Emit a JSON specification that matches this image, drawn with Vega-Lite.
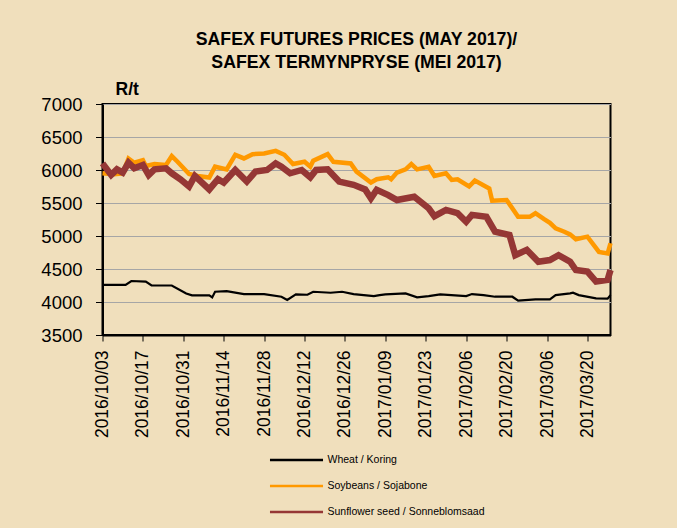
{
  "$schema": "https://vega.github.io/schema/vega-lite/v6.json",
  "width": 508,
  "height": 231,
  "autosize": {"type": "none"},
  "padding": {"left": 102.5, "top": 104, "right": 66.5, "bottom": 193},
  "background": "#f0dfbc",
  "config": {
    "font": "Liberation Sans",
    "view": {"stroke": "#000000", "strokeWidth": 2}
  },
  "title": {
    "text": ["SAFEX FUTURES PRICES (MAY 2017)/", "SAFEX TERMYNPRYSE (MEI 2017)"],
    "font": "Liberation Sans",
    "fontSize": 17.7,
    "fontWeight": "bold",
    "color": "#000000",
    "anchor": "middle",
    "lineHeight": 23,
    "offset": 8
  },
  "data": {
    "values": [
      {"d": "2016-10-03", "s": "Wheat / Koring", "v": 4258},
      {"d": "2016-10-11", "s": "Wheat / Koring", "v": 4258},
      {"d": "2016-10-13", "s": "Wheat / Koring", "v": 4318},
      {"d": "2016-10-18", "s": "Wheat / Koring", "v": 4310},
      {"d": "2016-10-20", "s": "Wheat / Koring", "v": 4250},
      {"d": "2016-10-27", "s": "Wheat / Koring", "v": 4250},
      {"d": "2016-11-01", "s": "Wheat / Koring", "v": 4130},
      {"d": "2016-11-03", "s": "Wheat / Koring", "v": 4100},
      {"d": "2016-11-09", "s": "Wheat / Koring", "v": 4100},
      {"d": "2016-11-10", "s": "Wheat / Koring", "v": 4070},
      {"d": "2016-11-11", "s": "Wheat / Koring", "v": 4155},
      {"d": "2016-11-15", "s": "Wheat / Koring", "v": 4165},
      {"d": "2016-11-21", "s": "Wheat / Koring", "v": 4120},
      {"d": "2016-11-28", "s": "Wheat / Koring", "v": 4120},
      {"d": "2016-12-04", "s": "Wheat / Koring", "v": 4080},
      {"d": "2016-12-06", "s": "Wheat / Koring", "v": 4030},
      {"d": "2016-12-09", "s": "Wheat / Koring", "v": 4115},
      {"d": "2016-12-13", "s": "Wheat / Koring", "v": 4110},
      {"d": "2016-12-15", "s": "Wheat / Koring", "v": 4155},
      {"d": "2016-12-21", "s": "Wheat / Koring", "v": 4140},
      {"d": "2016-12-25", "s": "Wheat / Koring", "v": 4155},
      {"d": "2016-12-29", "s": "Wheat / Koring", "v": 4120},
      {"d": "2017-01-05", "s": "Wheat / Koring", "v": 4090},
      {"d": "2017-01-07", "s": "Wheat / Koring", "v": 4105},
      {"d": "2017-01-09", "s": "Wheat / Koring", "v": 4115},
      {"d": "2017-01-16", "s": "Wheat / Koring", "v": 4130},
      {"d": "2017-01-20", "s": "Wheat / Koring", "v": 4070},
      {"d": "2017-01-24", "s": "Wheat / Koring", "v": 4090},
      {"d": "2017-01-28", "s": "Wheat / Koring", "v": 4115},
      {"d": "2017-02-06", "s": "Wheat / Koring", "v": 4090},
      {"d": "2017-02-08", "s": "Wheat / Koring", "v": 4120},
      {"d": "2017-02-12", "s": "Wheat / Koring", "v": 4105},
      {"d": "2017-02-16", "s": "Wheat / Koring", "v": 4080},
      {"d": "2017-02-22", "s": "Wheat / Koring", "v": 4080},
      {"d": "2017-02-24", "s": "Wheat / Koring", "v": 4020},
      {"d": "2017-03-02", "s": "Wheat / Koring", "v": 4040},
      {"d": "2017-03-07", "s": "Wheat / Koring", "v": 4040},
      {"d": "2017-03-09", "s": "Wheat / Koring", "v": 4105},
      {"d": "2017-03-14", "s": "Wheat / Koring", "v": 4130},
      {"d": "2017-03-15", "s": "Wheat / Koring", "v": 4140},
      {"d": "2017-03-17", "s": "Wheat / Koring", "v": 4105},
      {"d": "2017-03-23", "s": "Wheat / Koring", "v": 4055},
      {"d": "2017-03-27", "s": "Wheat / Koring", "v": 4050},
      {"d": "2017-03-28", "s": "Wheat / Koring", "v": 4105},

      {"d": "2016-10-03", "s": "Soybeans / Sojabone", "v": 5950},
      {"d": "2016-10-07", "s": "Soybeans / Sojabone", "v": 5935},
      {"d": "2016-10-10", "s": "Soybeans / Sojabone", "v": 5950},
      {"d": "2016-10-12", "s": "Soybeans / Sojabone", "v": 6175},
      {"d": "2016-10-14", "s": "Soybeans / Sojabone", "v": 6110},
      {"d": "2016-10-17", "s": "Soybeans / Sojabone", "v": 6150},
      {"d": "2016-10-18", "s": "Soybeans / Sojabone", "v": 6060},
      {"d": "2016-10-21", "s": "Soybeans / Sojabone", "v": 6090},
      {"d": "2016-10-25", "s": "Soybeans / Sojabone", "v": 6075},
      {"d": "2016-10-27", "s": "Soybeans / Sojabone", "v": 6210},
      {"d": "2016-10-29", "s": "Soybeans / Sojabone", "v": 6125},
      {"d": "2016-11-02", "s": "Soybeans / Sojabone", "v": 5940},
      {"d": "2016-11-05", "s": "Soybeans / Sojabone", "v": 5910},
      {"d": "2016-11-09", "s": "Soybeans / Sojabone", "v": 5885},
      {"d": "2016-11-11", "s": "Soybeans / Sojabone", "v": 6050},
      {"d": "2016-11-15", "s": "Soybeans / Sojabone", "v": 6010},
      {"d": "2016-11-18", "s": "Soybeans / Sojabone", "v": 6230},
      {"d": "2016-11-21", "s": "Soybeans / Sojabone", "v": 6175},
      {"d": "2016-11-24", "s": "Soybeans / Sojabone", "v": 6240},
      {"d": "2016-11-28", "s": "Soybeans / Sojabone", "v": 6250},
      {"d": "2016-12-02", "s": "Soybeans / Sojabone", "v": 6290},
      {"d": "2016-12-05", "s": "Soybeans / Sojabone", "v": 6230},
      {"d": "2016-12-08", "s": "Soybeans / Sojabone", "v": 6090},
      {"d": "2016-12-12", "s": "Soybeans / Sojabone", "v": 6125},
      {"d": "2016-12-14", "s": "Soybeans / Sojabone", "v": 6050},
      {"d": "2016-12-15", "s": "Soybeans / Sojabone", "v": 6140},
      {"d": "2016-12-20", "s": "Soybeans / Sojabone", "v": 6240},
      {"d": "2016-12-22", "s": "Soybeans / Sojabone", "v": 6125},
      {"d": "2016-12-28", "s": "Soybeans / Sojabone", "v": 6100},
      {"d": "2016-12-30", "s": "Soybeans / Sojabone", "v": 5975},
      {"d": "2017-01-04", "s": "Soybeans / Sojabone", "v": 5810},
      {"d": "2017-01-06", "s": "Soybeans / Sojabone", "v": 5860},
      {"d": "2017-01-10", "s": "Soybeans / Sojabone", "v": 5890},
      {"d": "2017-01-11", "s": "Soybeans / Sojabone", "v": 5860},
      {"d": "2017-01-13", "s": "Soybeans / Sojabone", "v": 5960},
      {"d": "2017-01-16", "s": "Soybeans / Sojabone", "v": 6010},
      {"d": "2017-01-18", "s": "Soybeans / Sojabone", "v": 6090},
      {"d": "2017-01-20", "s": "Soybeans / Sojabone", "v": 6010},
      {"d": "2017-01-24", "s": "Soybeans / Sojabone", "v": 6050},
      {"d": "2017-01-26", "s": "Soybeans / Sojabone", "v": 5910},
      {"d": "2017-01-30", "s": "Soybeans / Sojabone", "v": 5950},
      {"d": "2017-02-01", "s": "Soybeans / Sojabone", "v": 5850},
      {"d": "2017-02-03", "s": "Soybeans / Sojabone", "v": 5860},
      {"d": "2017-02-07", "s": "Soybeans / Sojabone", "v": 5750},
      {"d": "2017-02-09", "s": "Soybeans / Sojabone", "v": 5840},
      {"d": "2017-02-14", "s": "Soybeans / Sojabone", "v": 5720},
      {"d": "2017-02-15", "s": "Soybeans / Sojabone", "v": 5535},
      {"d": "2017-02-20", "s": "Soybeans / Sojabone", "v": 5545},
      {"d": "2017-02-24", "s": "Soybeans / Sojabone", "v": 5290},
      {"d": "2017-02-28", "s": "Soybeans / Sojabone", "v": 5290},
      {"d": "2017-03-02", "s": "Soybeans / Sojabone", "v": 5345},
      {"d": "2017-03-05", "s": "Soybeans / Sojabone", "v": 5255},
      {"d": "2017-03-07", "s": "Soybeans / Sojabone", "v": 5200},
      {"d": "2017-03-09", "s": "Soybeans / Sojabone", "v": 5115},
      {"d": "2017-03-12", "s": "Soybeans / Sojabone", "v": 5065},
      {"d": "2017-03-14", "s": "Soybeans / Sojabone", "v": 5025},
      {"d": "2017-03-16", "s": "Soybeans / Sojabone", "v": 4950},
      {"d": "2017-03-20", "s": "Soybeans / Sojabone", "v": 4990},
      {"d": "2017-03-24", "s": "Soybeans / Sojabone", "v": 4760},
      {"d": "2017-03-27", "s": "Soybeans / Sojabone", "v": 4735},
      {"d": "2017-03-28", "s": "Soybeans / Sojabone", "v": 4890},

      {"d": "2016-10-03", "s": "Sunflower seed / Sonneblomsaad", "v": 6100},
      {"d": "2016-10-06", "s": "Sunflower seed / Sonneblomsaad", "v": 5925},
      {"d": "2016-10-08", "s": "Sunflower seed / Sonneblomsaad", "v": 6010},
      {"d": "2016-10-10", "s": "Sunflower seed / Sonneblomsaad", "v": 5960},
      {"d": "2016-10-12", "s": "Sunflower seed / Sonneblomsaad", "v": 6110},
      {"d": "2016-10-14", "s": "Sunflower seed / Sonneblomsaad", "v": 6025},
      {"d": "2016-10-17", "s": "Sunflower seed / Sonneblomsaad", "v": 6075},
      {"d": "2016-10-19", "s": "Sunflower seed / Sonneblomsaad", "v": 5925},
      {"d": "2016-10-21", "s": "Sunflower seed / Sonneblomsaad", "v": 6010},
      {"d": "2016-10-25", "s": "Sunflower seed / Sonneblomsaad", "v": 6025},
      {"d": "2016-10-27", "s": "Sunflower seed / Sonneblomsaad", "v": 5950},
      {"d": "2016-10-30", "s": "Sunflower seed / Sonneblomsaad", "v": 5860},
      {"d": "2016-11-02", "s": "Sunflower seed / Sonneblomsaad", "v": 5750},
      {"d": "2016-11-04", "s": "Sunflower seed / Sonneblomsaad", "v": 5910},
      {"d": "2016-11-09", "s": "Sunflower seed / Sonneblomsaad", "v": 5705},
      {"d": "2016-11-12", "s": "Sunflower seed / Sonneblomsaad", "v": 5860},
      {"d": "2016-11-14", "s": "Sunflower seed / Sonneblomsaad", "v": 5810},
      {"d": "2016-11-18", "s": "Sunflower seed / Sonneblomsaad", "v": 6000},
      {"d": "2016-11-22", "s": "Sunflower seed / Sonneblomsaad", "v": 5825},
      {"d": "2016-11-25", "s": "Sunflower seed / Sonneblomsaad", "v": 5975},
      {"d": "2016-11-29", "s": "Sunflower seed / Sonneblomsaad", "v": 6000},
      {"d": "2016-12-02", "s": "Sunflower seed / Sonneblomsaad", "v": 6100},
      {"d": "2016-12-04", "s": "Sunflower seed / Sonneblomsaad", "v": 6050},
      {"d": "2016-12-07", "s": "Sunflower seed / Sonneblomsaad", "v": 5950},
      {"d": "2016-12-11", "s": "Sunflower seed / Sonneblomsaad", "v": 6000},
      {"d": "2016-12-14", "s": "Sunflower seed / Sonneblomsaad", "v": 5890},
      {"d": "2016-12-16", "s": "Sunflower seed / Sonneblomsaad", "v": 6000},
      {"d": "2016-12-20", "s": "Sunflower seed / Sonneblomsaad", "v": 6010},
      {"d": "2016-12-24", "s": "Sunflower seed / Sonneblomsaad", "v": 5825},
      {"d": "2016-12-29", "s": "Sunflower seed / Sonneblomsaad", "v": 5775},
      {"d": "2017-01-02", "s": "Sunflower seed / Sonneblomsaad", "v": 5705},
      {"d": "2017-01-04", "s": "Sunflower seed / Sonneblomsaad", "v": 5570},
      {"d": "2017-01-06", "s": "Sunflower seed / Sonneblomsaad", "v": 5700},
      {"d": "2017-01-10", "s": "Sunflower seed / Sonneblomsaad", "v": 5620},
      {"d": "2017-01-13", "s": "Sunflower seed / Sonneblomsaad", "v": 5545},
      {"d": "2017-01-19", "s": "Sunflower seed / Sonneblomsaad", "v": 5595},
      {"d": "2017-01-24", "s": "Sunflower seed / Sonneblomsaad", "v": 5420},
      {"d": "2017-01-26", "s": "Sunflower seed / Sonneblomsaad", "v": 5300},
      {"d": "2017-01-30", "s": "Sunflower seed / Sonneblomsaad", "v": 5395},
      {"d": "2017-02-03", "s": "Sunflower seed / Sonneblomsaad", "v": 5345},
      {"d": "2017-02-06", "s": "Sunflower seed / Sonneblomsaad", "v": 5215},
      {"d": "2017-02-08", "s": "Sunflower seed / Sonneblomsaad", "v": 5320},
      {"d": "2017-02-13", "s": "Sunflower seed / Sonneblomsaad", "v": 5290},
      {"d": "2017-02-16", "s": "Sunflower seed / Sonneblomsaad", "v": 5065},
      {"d": "2017-02-21", "s": "Sunflower seed / Sonneblomsaad", "v": 5015},
      {"d": "2017-02-23", "s": "Sunflower seed / Sonneblomsaad", "v": 4710},
      {"d": "2017-02-27", "s": "Sunflower seed / Sonneblomsaad", "v": 4790},
      {"d": "2017-03-03", "s": "Sunflower seed / Sonneblomsaad", "v": 4610},
      {"d": "2017-03-07", "s": "Sunflower seed / Sonneblomsaad", "v": 4635},
      {"d": "2017-03-10", "s": "Sunflower seed / Sonneblomsaad", "v": 4710},
      {"d": "2017-03-14", "s": "Sunflower seed / Sonneblomsaad", "v": 4610},
      {"d": "2017-03-16", "s": "Sunflower seed / Sonneblomsaad", "v": 4485},
      {"d": "2017-03-20", "s": "Sunflower seed / Sonneblomsaad", "v": 4460},
      {"d": "2017-03-23", "s": "Sunflower seed / Sonneblomsaad", "v": 4310},
      {"d": "2017-03-27", "s": "Sunflower seed / Sonneblomsaad", "v": 4335},
      {"d": "2017-03-28", "s": "Sunflower seed / Sonneblomsaad", "v": 4485}
    ]
  },
  "encoding": {
    "x": {
      "field": "d",
      "type": "temporal",
      "scale": {
        "type": "utc",
        "domain": [
          {"year": 2016, "month": 10, "date": 3, "utc": true},
          {"year": 2017, "month": 3, "date": 28, "utc": true}
        ]
      },
      "axis": {
        "values": [
          {"year": 2016, "month": 10, "date": 3, "utc": true},
          {"year": 2016, "month": 10, "date": 17, "utc": true},
          {"year": 2016, "month": 10, "date": 31, "utc": true},
          {"year": 2016, "month": 11, "date": 14, "utc": true},
          {"year": 2016, "month": 11, "date": 28, "utc": true},
          {"year": 2016, "month": 12, "date": 12, "utc": true},
          {"year": 2016, "month": 12, "date": 26, "utc": true},
          {"year": 2017, "month": 1, "date": 9, "utc": true},
          {"year": 2017, "month": 1, "date": 23, "utc": true},
          {"year": 2017, "month": 2, "date": 6, "utc": true},
          {"year": 2017, "month": 2, "date": 20, "utc": true},
          {"year": 2017, "month": 3, "date": 6, "utc": true},
          {"year": 2017, "month": 3, "date": 20, "utc": true}
        ],
        "format": "%Y/%m/%d",
        "title": null,
        "grid": false,
        "labelAngle": 270,
        "labelFontSize": 17.5,
        "labelColor": "#000000",
        "labelPadding": 9,
        "labelOverlap": false,
        "labelBound": false,
        "labelFlush": false,
        "tickSize": 6,
        "tickColor": "#000000",
        "domainColor": "#000000",
        "domainWidth": 2
      }
    },
    "y": {
      "field": "v",
      "type": "quantitative",
      "scale": {"domain": [3500, 7000], "nice": false, "zero": false},
      "axis": {
        "values": [3500, 4000, 4500, 5000, 5500, 6000, 6500, 7000],
        "format": "d",
        "title": "R/t",
        "titleAngle": 0,
        "titleAlign": "left",
        "titleBaseline": "alphabetic",
        "titleX": 12.5,
        "titleY": -10,
        "titleFontSize": 17.5,
        "titleFontWeight": "bold",
        "titleColor": "#000000",
        "labelFontSize": 18.5,
        "labelColor": "#000000",
        "labelPadding": 13.5,
        "tickSize": 7,
        "tickColor": "#000000",
        "domainColor": "#000000",
        "domainWidth": 2,
        "gridColor": "#a6a6a6",
        "gridWidth": 1
      }
    },
    "color": {
      "field": "s",
      "type": "nominal",
      "scale": {
        "domain": ["Wheat / Koring", "Soybeans / Sojabone", "Sunflower seed / Sonneblomsaad"],
        "range": ["#000000", "#ff9900", "#953735"]
      },
      "legend": {
        "orient": "none",
        "legendX": 182,
        "legendY": 344,
        "title": null,
        "padding": 0,
        "symbolType": "M-2.5,0L2.5,0",
        "symbolSize": 450,
        "symbolStrokeWidth": 2.5,
        "labelFontSize": 10.5,
        "labelColor": "#000000",
        "labelOffset": 19,
        "labelLimit": 400,
        "rowPadding": 8
      }
    }
  },
  "layer": [
    {
      "transform": [{"filter": "datum.s === 'Wheat / Koring'"}],
      "mark": {"type": "line", "strokeWidth": 2.2}
    },
    {
      "transform": [{"filter": "datum.s === 'Soybeans / Sojabone'"}],
      "mark": {"type": "line", "strokeWidth": 4.5}
    },
    {
      "transform": [{"filter": "datum.s === 'Sunflower seed / Sonneblomsaad'"}],
      "mark": {"type": "line", "strokeWidth": 6.5}
    }
  ]
}
